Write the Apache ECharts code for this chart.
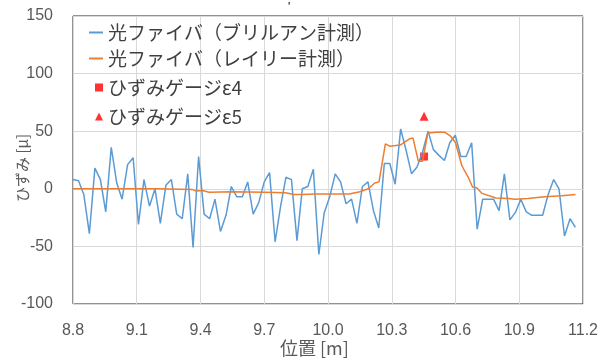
<!DOCTYPE html>
<html><head><meta charset="utf-8">
<script src="https://cdn.jsdelivr.net/npm/echarts@6/dist/echarts.min.js"></script>
<style>html,body{margin:0;padding:0;background:#fff}#c{width:611px;height:363px}</style>
</head><body><div id="c"></div>
<script>
const xTicks = ['8.8','9.1','9.4','9.7','10.0','10.3','10.6','10.9','11.2'];
const yTicks = [-100,-50,0,50,100,150];
const brillouinX = [8.800,8.826,8.851,8.877,8.903,8.929,8.954,8.980,9.006,9.031,9.057,9.083,9.108,9.134,9.160,9.186,
9.211,9.237,9.263,9.288,9.314,9.340,9.365,9.391,9.417,9.443,9.468,9.494,9.520,9.545,9.571,9.597,
9.622,9.648,9.674,9.700,9.725,9.751,9.777,9.802,9.828,9.854,9.879,9.905,9.931,9.957,9.982,
10.008,10.034,10.059,10.085,10.111,10.136,10.162,10.188,10.214,10.239,10.265,10.291,10.316,10.342,10.368,10.393,
10.419,10.445,10.471,10.496,10.522,10.548,10.573,10.599,10.625,10.650,10.676,10.702,10.728,10.753,10.779,10.805,
10.830,10.856,10.882,10.907,10.933,10.959,10.985,11.010,11.036,11.062,11.087,11.113,11.139,11.164];
const brillouinY = [8,7,-5,-39,18,8,-20,36,5,-9,21,27,-31,8,-15,0,
-30,3,8,-22,-26,13,-51,28,-22,-26,-9,-37,-23,2,-7,-7,
6,-22,-12,6,14,-46,-15,10,8,-45,0,2,17,-57,-21,
-7,13,6,-13,-9,-30,2,6,-19,-34,22,22,4,52,33,13,
19,32,50,34,29,24.5,40,46.5,28,28,40,-35,-9,-9,-9,-19,
13,-27,-20.5,-9,-20,-23,-23,-23,-5,8,0,-41,-26,-33.5];
const rayleighX = [8.80,9.00,9.20,9.36,9.38,9.41,9.44,9.55,9.70,9.80,9.84,9.88,9.94,10.10,10.15,10.19,10.22,10.24,10.27,10.29,10.34,10.385,10.40,10.425,10.445,10.47,10.51,10.55,10.575,10.60,10.63,10.66,10.68,10.70,10.725,10.79,10.85,10.88,10.94,11.02,11.10,11.165];
const rayleighY = [0,0,0,-0.5,-2,-1.5,-3,-2.5,-3,-3.5,-5,-5,-4.5,-4.5,-2.5,0,5,6,39,37,38,43.5,44,24,24,48.5,49,49,46,40,20,10,1.5,1,-4,-8,-8.5,-9,-8.5,-7,-6,-5];
const gaugeE4 = [[10.452, 28]];
const gaugeE5 = [[10.452, 63]];
const names = ['光ファイバ（ブリルアン計測）','光ファイバ（レイリー計測）','ひずみゲージε4','ひずみゲージε5'];

const zip = (xs, ys) => xs.map((x, i) => [x, ys[i]]);
const numFont = "'Liberation Sans', 'Noto Sans CJK JP', sans-serif";
const jpFont = "'Noto Sans CJK JP', sans-serif";
const chart = echarts.init(document.getElementById('c'), null, {renderer:'canvas'});
chart.setOption({
  animation: false,
  backgroundColor: '#fff',
  grid: {left: 73, right: 28, top: 16, bottom: 59, show: true, borderColor: '#262626', borderWidth: 1, backgroundColor: 'transparent'},
  xAxis: {
    type: 'value', min: 8.8, max: 11.2, interval: 0.3,
    axisLine: {show: false}, axisTick: {show: false},
    splitLine: {show: true, lineStyle: {color: '#d9d9d9', width: 1}},
    axisLabel: {margin: 19, color: '#595959', fontSize: 16, fontFamily: numFont,
      formatter: v => { const s = v.toFixed(1); return xTicks.includes(s) ? s : ''; }}
  },
  yAxis: {
    type: 'value', min: -100, max: 150, interval: 50,
    axisLine: {show: false}, axisTick: {show: false},
    splitLine: {show: true, lineStyle: {color: '#d9d9d9', width: 1}},
    axisLabel: {margin: 20, color: '#595959', fontSize: 16, fontFamily: numFont,
      formatter: v => yTicks.includes(Math.round(v)) ? String(Math.round(v)) : ''}
  },
  legend: [
    {show: true, orient: 'vertical', left: 84, top: 18, itemGap: 7, itemWidth: 14, itemHeight: 2,
      textStyle: {fontSize: 19, fontFamily: jpFont, color: '#404040', lineHeight: 18},
      data: [{name: names[0], icon: 'rect'}, {name: names[1], icon: 'rect'}]},
    {show: true, orient: 'vertical', left: 90, top: 73, itemGap: 10, itemWidth: 8, itemHeight: 8,
      textStyle: {fontSize: 19, fontFamily: jpFont, color: '#404040', lineHeight: 18},
      data: [{name: names[2], icon: 'rect'}, {name: names[3], icon: 'triangle'}]}
  ],
  graphic: [
    {type: 'text', left: 280, top: 339, style: {text: '位置 [m]', font: "18px 'Noto Sans CJK JP'", fill: '#595959'}},
    {type: 'text', x: 22, y: 168, rotation: Math.PI/2, style: {text: 'ひずみ [μ]', font: "15px 'Noto Sans CJK JP'", fill: '#595959', align: 'center', verticalAlign: 'middle'}},
    {type: 'text', x: 288, y: 2, style: {text: "'", font: "12px 'Liberation Sans'", fill: '#000'}}
  ],
  series: [
    {name: names[0], type: 'line', data: zip(brillouinX, brillouinY), showSymbol: false, symbol: 'none',
      lineStyle: {color: '#5b9bd5', width: 1.5}, itemStyle: {color: '#5b9bd5'}},
    {name: names[1], type: 'line', data: zip(rayleighX, rayleighY), showSymbol: false, symbol: 'none',
      lineStyle: {color: '#ed7d31', width: 1.5}, itemStyle: {color: '#ed7d31'}},
    {name: names[2], type: 'scatter', data: gaugeE4, symbol: 'rect', symbolSize: 8, itemStyle: {color: '#ff0000'}},
    {name: names[3], type: 'scatter', data: gaugeE5, symbol: 'triangle', symbolSize: 9, itemStyle: {color: '#ff0000'}}
  ]
});
</script></body></html>
